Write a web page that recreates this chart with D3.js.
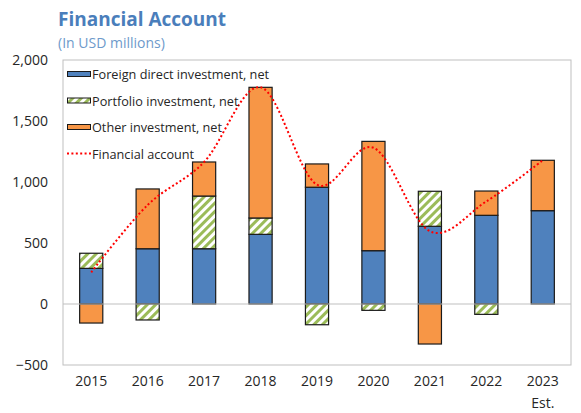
<!DOCTYPE html>
<meta charset="utf-8">
<script src="https://d3js.org/d3.v7.min.js"></script>
<style>
  body { margin: 0; background: #fff; }
  text { font-family: "Open Sans", "Noto Sans", sans-serif; }
</style>
<body>
<script>
// Chart data (USD millions)
var years = ["2015", "2016", "2017", "2018", "2019", "2020", "2021", "2022", "2023"];
var fdi = [292, 453, 453, 571, 957, 437, 637, 727, 765];
var portfolio = [124, -131, 432, 134, -170, -52, 287, -85, 0];
var other = [-156, 490, 279, 1071, 191, 896, -328, 199, 413];
var financialAccount = [260, 812, 1164, 1776, 978, 1281, 596, 841, 1178];
var yTicks = [-500, 0, 500, 1000, 1500, 2000];

var series = [
  {name: "Foreign direct investment, net", values: fdi, fill: "#4F81BD"},
  {name: "Portfolio investment, net", values: portfolio, fill: "url(#stripes)"},
  {name: "Other investment, net", values: other, fill: "#F79646"}
];

var W = 581, H = 413;
var plot = {left: 63, right: 571, top: 60, bottom: 365};

var svg = d3.select("body").append("svg")
    .attr("width", W)
    .attr("height", H);

// hatched fill for portfolio investment
var pat = svg.append("defs").append("pattern")
    .attr("id", "stripes")
    .attr("patternUnits", "userSpaceOnUse")
    .attr("width", 6)
    .attr("height", 6)
    .attr("patternTransform", "rotate(45)");
pat.append("rect").attr("width", 6).attr("height", 6).attr("fill", "#fff");
pat.append("rect").attr("width", 3).attr("height", 6).attr("fill", "#9BBB59");

var x = d3.scaleBand()
    .domain(years)
    .range([plot.left, plot.right])
    .paddingInner(0.59)
    .paddingOuter(0.295);

var y = d3.scaleLinear()
    .domain([-500, 2000])
    .range([plot.bottom, plot.top]);

// title
svg.append("text")
    .attr("x", 58).attr("y", 26)
    .attr("font-size", 19).attr("font-weight", 700)
    .attr("fill", "#4A7EBB")
    .text("Financial Account");
svg.append("text")
    .attr("x", 58).attr("y", 48)
    .attr("font-size", 14)
    .attr("fill", "#6E9ACB")
    .text("(In USD millions)");

// plot frame
svg.append("rect")
    .attr("x", plot.left).attr("y", plot.top)
    .attr("width", plot.right - plot.left)
    .attr("height", plot.bottom - plot.top)
    .attr("fill", "none")
    .attr("stroke", "#BFBFBF");

// y axis labels
var yAxis = svg.append("g")
    .attr("transform", "translate(" + (plot.left - 15) + ",0)")
    .call(d3.axisLeft(y).tickValues(yTicks).tickSize(0).tickPadding(0).tickFormat(d3.format(",")));
yAxis.select(".domain").remove();
yAxis.selectAll("text")
    .attr("font-size", 14)
    .attr("font-family", "Open Sans, Noto Sans, sans-serif")
    .attr("fill", "#262626");

// x axis labels
var xAxis = svg.append("g")
    .attr("transform", "translate(0," + (plot.bottom + 11) + ")")
    .call(d3.axisBottom(x).tickSize(0).tickPadding(0));
xAxis.select(".domain").remove();
xAxis.selectAll("text")
    .attr("font-size", 14)
    .attr("font-family", "Open Sans, Noto Sans, sans-serif")
    .attr("fill", "#262626");
svg.append("text")
    .attr("x", x("2023") + x.bandwidth() / 2)
    .attr("y", 408)
    .attr("text-anchor", "middle")
    .attr("font-size", 14)
    .attr("fill", "#262626")
    .text("Est.");

// stacked bars (positives stack up, negatives stack down)
var segs = [];
years.forEach(function(yr, i) {
  var pos = 0, neg = 0;
  series.forEach(function(s) {
    var v = s.values[i];
    if (v === 0) return;
    var y0, y1;
    if (v > 0) { y0 = pos; y1 = pos + v; pos = y1; }
    else { y0 = neg; y1 = neg + v; neg = y1; }
    segs.push({year: yr, y0: y0, y1: y1, fill: s.fill});
  });
});

svg.selectAll(".seg")
    .data(segs)
    .enter()
    .append("rect")
    .attr("class", "seg")
    .attr("x", function(d) { return x(d.year); })
    .attr("width", x.bandwidth())
    .attr("y", function(d) { return y(Math.max(d.y0, d.y1)); })
    .attr("height", function(d) { return Math.abs(y(d.y0) - y(d.y1)); })
    .attr("fill", function(d) { return d.fill; })
    .attr("stroke", "#1A1A1A")
    .attr("stroke-width", 1.2);

// zero line
svg.append("line")
    .attr("x1", plot.left).attr("x2", plot.right)
    .attr("y1", y(0)).attr("y2", y(0))
    .attr("stroke", "#BFBFBF");

// financial account line
var line = d3.line()
    .x(function(d, i) { return x(years[i]) + x.bandwidth() / 2; })
    .y(function(d) { return y(d); })
    .curve(d3.curveCardinal.tension(0));

svg.append("path")
    .datum(financialAccount)
    .attr("d", line)
    .attr("fill", "none")
    .attr("stroke", "#FF0000")
    .attr("stroke-width", 2)
    .attr("stroke-dasharray", "2,2.4");

// legend
var legend = svg.append("g").attr("transform", "translate(67,0)");
var legendRows = [74, 100.5, 127, 153.5];
series.forEach(function(s, i) {
  legend.append("rect")
      .attr("x", 0.5).attr("y", legendRows[i] - 2.5)
      .attr("width", 23).attr("height", 5)
      .attr("fill", s.fill)
      .attr("stroke", "#1A1A1A");
  legend.append("text")
      .attr("x", 25).attr("y", legendRows[i] + 5)
      .attr("font-size", 12.7)
      .attr("fill", "#262626")
      .text(s.name);
});
legend.append("line")
    .attr("x1", 0).attr("x2", 24)
    .attr("y1", legendRows[3]).attr("y2", legendRows[3])
    .attr("stroke", "#FF0000")
    .attr("stroke-width", 2)
    .attr("stroke-dasharray", "2,2.4");
legend.append("text")
    .attr("x", 25).attr("y", legendRows[3] + 5)
    .attr("font-size", 12.7)
    .attr("fill", "#262626")
    .text("Financial account");
</script>
</body>
</html>
